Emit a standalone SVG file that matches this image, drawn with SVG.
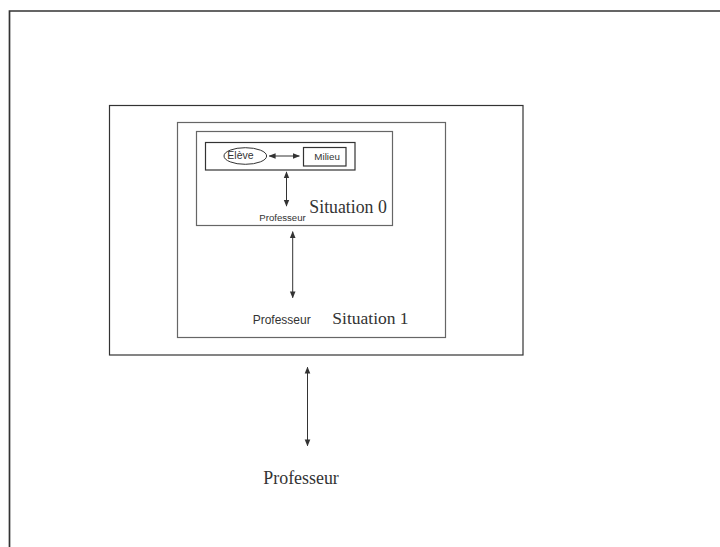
<svg xmlns="http://www.w3.org/2000/svg" width="720" height="547" viewBox="0 0 720 547">
<defs>
<style>
.sans{font-family:"Liberation Sans",Arial,sans-serif;fill:#333}
.serif{font-family:"Liberation Serif","Times New Roman",serif;fill:#333}
.box{fill:none;stroke:#333;stroke-width:1.2}
.gbox{fill:none;stroke:#666;stroke-width:1.2}
.conn{stroke:#333;stroke-width:1;fill:none;marker-start:url(#ah);marker-end:url(#ah)}
</style>
<marker id="ah" viewBox="0 0 10 10" refX="9" refY="5" markerWidth="7" markerHeight="7" markerUnits="userSpaceOnUse" orient="auto-start-reverse">
<path d="M0,1 L10,5 L0,9 Z" fill="#333"/>
</marker>
</defs>
<rect width="720" height="547" fill="#fff"/>
<g id="frame"><path d="M9.5,547 V11 H720" fill="none" stroke="#333" stroke-width="1.7"/></g>
<g id="outer"><rect class="box" x="109.5" y="105.5" width="413.5" height="249.5"/></g>
<g id="situation1">
<rect class="gbox" x="177.5" y="122.5" width="268" height="215"/>
<text class="sans" x="252.7" y="324.3" font-size="12">Professeur</text>
<text class="serif" x="332.3" y="324.3" font-size="17.5">Situation 1</text>
</g>
<g id="situation0">
<rect class="gbox" x="196.5" y="131.5" width="196" height="94" stroke="#555"/>
<text class="serif" x="309.3" y="213.3" font-size="17.8">Situation 0</text>
<text class="sans" x="259.3" y="221" font-size="9.6">Professeur</text>
</g>
<g id="inner"><rect class="box" x="205.5" y="142.5" width="149.5" height="27.5"/></g>
<g id="eleve">
<ellipse cx="245.3" cy="156" rx="21.3" ry="8.3" fill="none" stroke="#333" stroke-width="1"/>
<text class="sans" x="227.3" y="159" font-size="10.5">Elève</text>
</g>
<g id="milieu">
<rect x="303.5" y="147.5" width="42.5" height="18.5" fill="none" stroke="#333" stroke-width="1.2"/>
<text class="sans" x="314.3" y="159.5" font-size="9.8">Milieu</text>
</g>
<g id="professeur">
<text class="serif" x="263.3" y="484" font-size="17.9">Professeur</text>
</g>
<g id="connectors">
<line class="conn" x1="269.3" y1="156" x2="299.3" y2="156"/>
<line class="conn" x1="286.5" y1="172" x2="286.5" y2="206"/>
<line class="conn" x1="292.7" y1="231.7" x2="292.7" y2="297.7"/>
<line class="conn" x1="307.5" y1="367.3" x2="307.5" y2="445.7"/>
</g>
</svg>
